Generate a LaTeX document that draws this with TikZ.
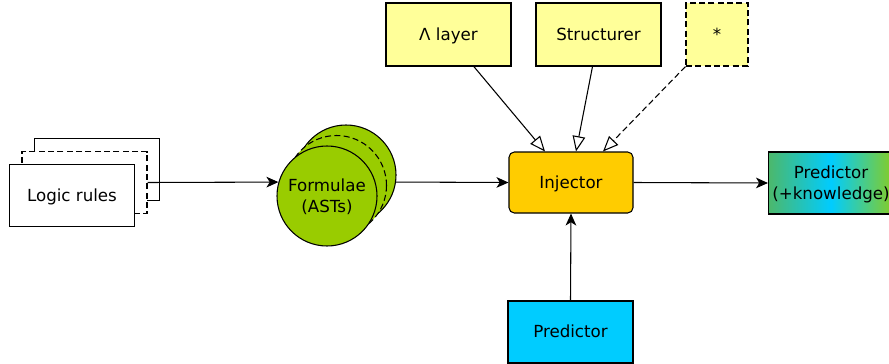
\documentclass[tikz,border=0pt]{standalone}
\usepackage{fontspec}
\setmainfont{DejaVu Sans}
\usetikzlibrary{arrows.meta}
\definecolor{notefill}{HTML}{FFFF99}
\definecolor{formgreen}{HTML}{99CC00}
\definecolor{injorange}{HTML}{FFCC00}
\definecolor{predblue}{HTML}{00CCFF}
\definecolor{kgleft}{HTML}{4CB86B}
\definecolor{kgright}{HTML}{88CC22}

\begin{document}
\begin{tikzpicture}[x=0.75pt, y=-0.75pt, line width=0.8pt,
    font=\fontsize{12.5pt}{15.5pt}\selectfont,
    every node/.append style={text depth=1pt},
    dashed/.style={dash pattern=on 4.5pt off 2.5pt},
    box/.style={draw, inner sep=0pt, align=center, minimum width=93.75pt, minimum height=46.5pt},
    form/.style={draw, circle, fill=formgreen, inner sep=0pt, minimum size=75pt, align=center},
    flow/.style={-{Stealth[length=9pt, width=8pt, inset=2.5pt]}},
    plug/.style={-{Triangle[open, length=11.5pt, width=9.5pt]}}]
    \useasboundingbox (0,0) rectangle (889,364);
    % Rules
    \foreach \i/\sty in {2/solid, 1/dashed}
        \node[box, fill=white, \sty] (rules\i) at ({72+12.5*\i},{195.5-13*\i}) {};
    \node[box, fill=white] (rules) at (72,195.5) {Logic rules};
    % Formulae
    \foreach \i/\sty in {2/solid, 1/dashed}
        \node[form, \sty] (forms\i) at ({327+9.5*\i},{196-10.5*\i}) {};
    \node[form] (forms) at (327,196) {Formulae\\(ASTs)};
    % Injector and its parts
    \node[box, fill=injorange, rounded corners=4pt, minimum width=93pt, minimum height=45.75pt] (inj) at (571,182.5) {Injector};
    \node[box, fill=notefill, minimum height=47.25pt] (lam) at (448.5,34.5) {Λ layer};
    \node[box, fill=notefill, minimum height=47.25pt] (struct) at (598.5,34.5) {Structurer};
    \node[box, fill=notefill, dashed, minimum width=46.5pt, minimum height=47.25pt] (star) at (717,34.5) {*};
    \node[box, fill=predblue] (pred) at (570.5,332) {Predictor};
    \node[box, left color=kgleft, right color=kgright, middle color=predblue] (predk) at (831,183) {Predictor\\(+knowledge)};
    % Connectors
    \draw[flow] (rules1.east) -- (forms.164);
    \draw[flow] (forms2.-8) -- (inj.west);
    \draw[flow] (inj.east) -- (predk.west);
    \draw[flow] (pred.north) -- (inj.south);
    \draw[plug] ([xshift=19pt]lam.south) -- ([xshift=-19.5pt]inj.north);
    \draw[plug] ([xshift=-4.5pt]struct.south) -- ([xshift=3.75pt]inj.north);
    \draw[plug, dashed] (star.south west) -- ([xshift=24pt]inj.north);
\end{tikzpicture}
\end{document}
